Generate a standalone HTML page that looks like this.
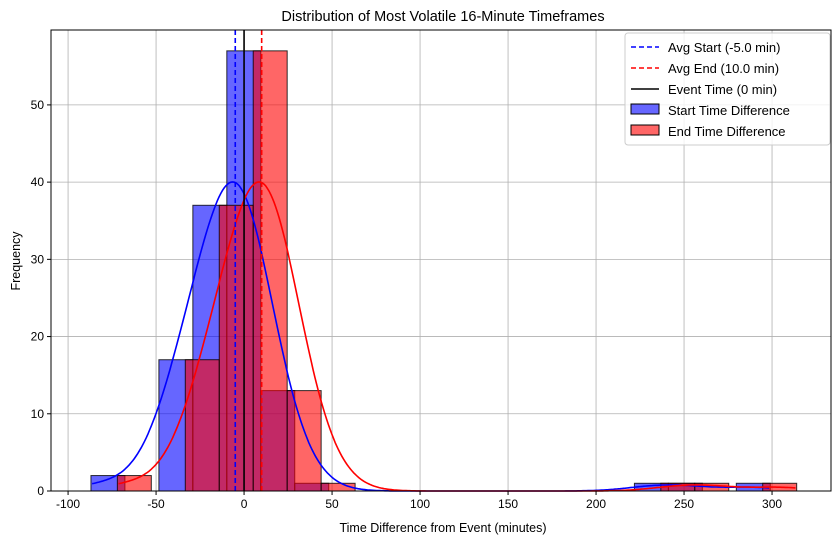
<!DOCTYPE html>
<html><head><meta charset="utf-8">
<style>
body{margin:0;background:#fff;}
svg{display:block;font-family:"Liberation Sans","DejaVu Sans",sans-serif;}
</style></head>
<body>
<svg id="chart" width="840" height="542" viewBox="0 0 840 542">
<text x="443" y="21" text-anchor="middle" font-size="14.5">Distribution of Most Volatile 16-Minute Timeframes</text>
<g id="grid"></g>
<g id="bars"></g>
<g id="lines"></g>
<g id="axes"></g>
<text x="443" y="532" text-anchor="middle" font-size="12.5">Time Difference from Event (minutes)</text>
<text transform="translate(20,261) rotate(-90)" text-anchor="middle" font-size="12.5">Frequency</text>
<g>
<rect x="625" y="33" width="205" height="112" fill="#fff" fill-opacity="0.8" stroke="#ccc" rx="3"/>
<line x1="631" y1="47" x2="659" y2="47" stroke="blue" stroke-width="1.6" stroke-dasharray="5,3"/>
<text x="668" y="52" font-size="13">Avg Start (-5.0 min)</text>
<line x1="631" y1="68" x2="659" y2="68" stroke="red" stroke-width="1.6" stroke-dasharray="5,3"/>
<text x="668" y="73" font-size="13">Avg End (10.0 min)</text>
<line x1="631" y1="89" x2="659" y2="89" stroke="black" stroke-width="1.6"/>
<text x="668" y="94" font-size="13">Event Time (0 min)</text>
<rect x="631" y="104" width="28" height="10" fill="rgba(0,0,255,0.6)" stroke="#000"/>
<text x="668" y="115" font-size="13">Start Time Difference</text>
<rect x="631" y="125" width="28" height="10" fill="rgba(255,0,0,0.6)" stroke="#000"/>
<text x="668" y="136" font-size="13">End Time Difference</text>
</g>
</svg>
<script>
const startBinStart = -87;
const endBinStart = -72;
const binWidth = 19.3;
const startCounts = [2,0,17,37,57,13,1,0,0,0,0,0,0,0,0,0,1,1,0,1];
const endCounts = [2,0,17,37,57,13,1,0,0,0,0,0,0,0,0,0,1,1,0,1];
const avgStart = -5.0;
const avgEnd = 10.0;
const eventTime = 0;
const xTicks = [-100,-50,0,50,100,150,200,250,300];
const yTicks = [0,10,20,30,40,50];

const L=51,R=831,T=30,B=491;
const xMin=-109.7,xMax=333.5,yMax=59.7;
const X=v=>L+(v-xMin)/(xMax-xMin)*(R-L);
const Y=v=>B-v/yMax*(B-T);
const NS='http://www.w3.org/2000/svg';
function mk(tag,attrs,parent){const e=document.createElementNS(NS,tag);for(const k in attrs)e.setAttribute(k,attrs[k]);parent.appendChild(e);return e;}
const grid=document.getElementById('grid'),bars=document.getElementById('bars'),lines=document.getElementById('lines'),axes=document.getElementById('axes');

xTicks.forEach(t=>{
  const g=mk('line',{x1:X(t),x2:X(t),y1:T,y2:B,stroke:'#b0b0b0','stroke-width':0.8},grid);
  
  
  mk('line',{x1:X(t),x2:X(t),y1:B,y2:B+4,stroke:'#000'},axes);
  const tx=mk('text',{x:X(t),y:B+17,'text-anchor':'middle','font-size':12},axes);
  tx.textContent=t;
  
  
});
yTicks.forEach(t=>{
  const g=mk('line',{x1:L,x2:R,y1:Y(t),y2:Y(t),stroke:'#b0b0b0','stroke-width':0.8},grid);
  
  
  mk('line',{x1:L-4,x2:L,y1:Y(t),y2:Y(t),stroke:'#000'},axes);
  const tx=mk('text',{x:L-7,y:Y(t)+4,'text-anchor':'end','font-size':12},axes);
  tx.textContent=t;
  
  
});
const frame=mk('rect',{x:L,y:T,width:R-L,height:B-T,fill:'none',stroke:'#000','stroke-width':1},axes);



function drawBars(counts,start,fill,name){
  counts.forEach((c,i)=>{
    if(!c)return;
    const x0=X(start+i*binWidth),x1=X(start+(i+1)*binWidth);
    const r=mk('rect',{x:x0,y:Y(c),width:x1-x0,height:Y(0)-Y(c),fill:fill,stroke:'rgba(0,0,0,0.8)','stroke-width':1},bars);
    
    
  });
}
drawBars(startCounts,startBinStart,'rgba(0,0,255,0.6)','start-bar');
drawBars(endCounts,endBinStart,'rgba(255,0,0,0.6)','end-bar');

function kde(counts,start,color,name){
  const h=16.8;
  const centers=counts.map((c,i)=>start+(i+0.5)*binWidth);
  const lo=start+binWidth*0.5-9, hi=start+binWidth*(counts.length-0.5)+9;
  let d='';
  for(let k=0;k<=400;k++){
    const x=lo+(hi-lo)*k/400;
    let s=0;
    counts.forEach((c,i)=>{const z=(x-centers[i])/h;s+=c*Math.exp(-0.5*z*z);});
    const y=s*binWidth/(h*Math.sqrt(2*Math.PI));
    d+=(k?'L':'M')+X(x).toFixed(1)+','+Y(y).toFixed(1);
  }
  const p=mk('path',{d:d,fill:'none',stroke:color,'stroke-width':1.6},lines);
  
  
}
kde(startCounts,startBinStart,'blue','start-kde-curve');
kde(endCounts,endBinStart,'red','end-kde-curve');

const v1=mk('line',{x1:X(avgStart),x2:X(avgStart),y1:T,y2:B,stroke:'blue','stroke-width':1.6,'stroke-dasharray':'5,3'},lines);


const v2=mk('line',{x1:X(avgEnd),x2:X(avgEnd),y1:T,y2:B,stroke:'red','stroke-width':1.6,'stroke-dasharray':'5,3'},lines);


const v3=mk('line',{x1:X(eventTime),x2:X(eventTime),y1:T,y2:B,stroke:'black','stroke-width':1.6},lines);


</script>
</body></html>
